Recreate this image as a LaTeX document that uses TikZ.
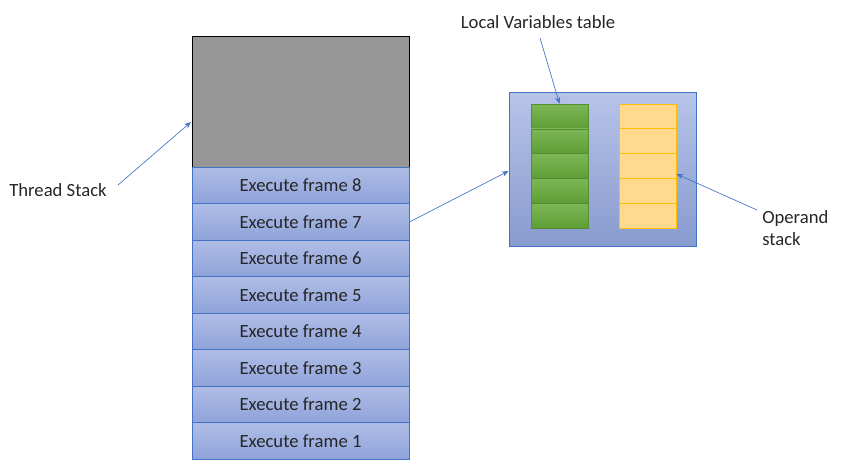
\documentclass[tikz,border=0pt]{standalone}
\usepackage{fontspec}
\setmainfont{Carlito}
\usetikzlibrary{arrows.meta}
\definecolor{bord}{HTML}{4472C4}
\definecolor{bluetop}{HTML}{AFBDE6}
\definecolor{bluebot}{HTML}{8FA3DA}
\definecolor{greentop}{HTML}{7DB656}
\definecolor{greenbot}{HTML}{5E9E36}
\definecolor{yel}{HTML}{FFD98E}
\definecolor{yelb}{HTML}{FFC000}
\tikzset{
  frame/.style={draw=bord, line width=0.6pt, top color=bluetop, bottom color=bluebot, minimum width=217*0.75pt, minimum height=36.5*0.75pt, inner sep=0pt, font=\fontsize{14}{16}\selectfont, text=black!85},
  gcell/.style={draw=greenbot!90!black, line width=0.4pt, top color=greentop, bottom color=greenbot, minimum width=57*0.75pt, minimum height=24.8*0.75pt, inner sep=0pt},
  ycell/.style={draw=yelb, line width=0.7pt, fill=yel, minimum width=57*0.75pt, minimum height=24.8*0.75pt, inner sep=0pt},
  lbl/.style={font=\fontsize{14}{16.5}\selectfont, text=black!85, inner sep=0pt},
  arr/.style={draw=bord, line width=0.5pt, -{Stealth[length=5pt,width=4pt]}}
}
\begin{document}
\begin{tikzpicture}[x=0.75pt,y=-0.75pt]
\useasboundingbox (0,0) rectangle (845,469);
% gray top
\node[draw=black, line width=0.5pt, fill=black!41, minimum width=217*0.75pt, minimum height=131*0.75pt, inner sep=0pt] (top) at (300.5,101.5) {};
% frames
\foreach \i/\y in {8/185.5,7/222,6/258.5,5/295,4/331.5,3/368,2/404.5,1/441}{
  \node[frame] (f\i) at (300.5,\y) {Execute frame \i};
}
% panel
\node[draw=bord, line width=0.6pt, top color=bluetop!90!white, bottom color=bluebot!95!black, minimum width=187*0.75pt, minimum height=154*0.75pt, inner sep=0pt] (panel) at (602.5,169) {};
\foreach \k in {1,...,5}{
  \node[gcell] (g\k) at (559.5,{104+12.4+(\k-1)*24.8}) {};
  \node[ycell] (y\k) at (647.5,{104+12.4+(\k-1)*24.8}) {};
}
% labels
\node[lbl] (lvt) at (538,22) {Local Variables table};
\node[lbl] (ts) at (58,190) {Thread Stack};
\node[lbl, align=left, anchor=west] (os) at (762,228.5) {Operand\\stack};
\coordinate (lvtend) at (540,38);
\coordinate (tsend) at (118,185);
\coordinate (osend) at (757,210);
% arrows
\draw[arr] (lvtend) -- (g1.north);
\draw[arr] (tsend) -- (191,122);
\draw[arr] (f7.east) -- (panel.west |- 0,171);
\draw[arr] (osend) -- (y3.east |- 0,174);
\end{tikzpicture}
\end{document}
